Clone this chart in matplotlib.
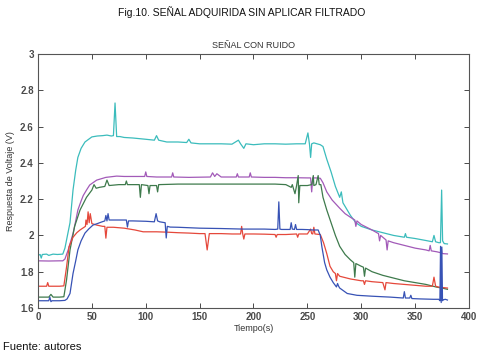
import matplotlib.pyplot as plt

# --- data (time in s, voltage in V) ---
cyan_t = [0, 2, 3, 4, 8, 10, 14, 18, 23, 25, 27, 29.7, 32.5, 35, 37, 40, 43.6, 47, 50, 55, 60, 64, 68,
          70, 71.5, 73, 76, 80, 88, 100, 108, 110, 112, 119.5, 130, 138, 140, 142, 150, 160, 170, 180,
          186, 188, 191, 193, 200, 210, 220, 230, 240, 248, 250.5, 252, 253, 254, 256, 259, 262, 264.5,
          268, 272, 276, 280, 281.5, 283, 286, 290, 295, 300, 310, 320, 330, 340, 341, 342, 350, 360,
          366, 367.5, 369, 372, 373.5, 374.6, 375.5, 377, 380]
cyan_v = [1.89, 1.895, 1.875, 1.895, 1.897, 1.89, 1.897, 1.895, 1.897, 1.93, 1.99, 2.07, 2.25, 2.36,
          2.43, 2.48, 2.515, 2.53, 2.543, 2.548, 2.55, 2.553, 2.548, 2.55, 2.73, 2.545, 2.545, 2.54,
          2.537, 2.53, 2.525, 2.55, 2.525, 2.515, 2.515, 2.512, 2.53, 2.51, 2.505, 2.505, 2.505, 2.503,
          2.525, 2.505, 2.48, 2.505, 2.50, 2.505, 2.505, 2.503, 2.505, 2.505, 2.565, 2.50, 2.43, 2.505,
          2.51, 2.505, 2.50, 2.49, 2.42, 2.35, 2.27, 2.21, 2.24, 2.18, 2.15, 2.11, 2.07, 2.05, 2.03,
          2.015, 2.0, 1.99, 2.01, 1.99, 1.983, 1.972, 1.965, 2.0, 1.965, 1.96, 1.96, 2.25, 1.97, 1.955,
          1.953]

purple_t = [0, 10, 20, 23, 25, 28, 30, 32.5, 35, 37, 40, 42, 45, 48, 54.5, 63, 73, 80, 90, 99, 100,
            101, 110, 124, 125, 126, 140, 160, 162, 164, 166, 170, 184, 185, 186, 196, 197, 198, 210,
            220, 230, 240, 250, 253, 254, 255, 258, 262, 264.5, 268, 273, 280, 285, 290, 294, 295, 296,
            300, 310, 316, 317, 318, 320, 323, 324, 325, 330, 340, 350, 360, 363, 364, 365, 370, 373.5,
            374.3, 375, 380]
purple_v = [1.86, 1.859, 1.86, 1.86, 1.87, 1.92, 1.96, 2.01, 2.08, 2.14, 2.19, 2.22, 2.25, 2.278,
            2.305, 2.32, 2.327, 2.325, 2.325, 2.325, 2.35, 2.325, 2.322, 2.322, 2.345, 2.322, 2.32,
            2.322, 2.345, 2.325, 2.34, 2.322, 2.322, 2.34, 2.322, 2.322, 2.345, 2.322, 2.32, 2.32, 2.318,
            2.318, 2.317, 2.317, 2.24, 2.317, 2.317, 2.315, 2.29, 2.24, 2.195, 2.15, 2.12, 2.10, 2.085,
            2.05, 2.08, 2.06, 2.03, 2.01, 1.97, 2.0, 1.99, 1.975, 1.92, 1.97, 1.96, 1.945, 1.93, 1.92,
            1.915, 1.945, 1.915, 1.91, 1.905, 1.93, 1.9, 1.898]

green_t = [0, 10, 12, 14, 20, 24, 26.5, 29.7, 34, 39, 45, 50, 52, 54, 57, 62, 64, 66, 75, 81, 82, 83,
           90, 94, 95, 96, 102, 103, 104, 108, 110, 111, 112, 130, 150, 170, 190, 210, 220, 230, 235,
           236, 238.5, 240, 241.5, 242, 243, 250, 254, 255.5, 256, 258, 260, 261, 262.5, 264.5, 268,
           272, 276, 280, 285, 290, 293, 294, 295, 300, 302, 303, 304, 310, 320, 330, 340, 350, 360,
           370, 375, 380]
green_v = [1.66, 1.66, 1.675, 1.66, 1.66, 1.662, 1.755, 1.92, 2.05, 2.14, 2.21, 2.25, 2.28, 2.26,
           2.265, 2.27, 2.305, 2.275, 2.28, 2.28, 2.30, 2.28, 2.28, 2.28, 2.21, 2.28, 2.275, 2.23, 2.275,
           2.275, 2.275, 2.24, 2.28, 2.283, 2.283, 2.283, 2.283, 2.283, 2.283, 2.28, 2.265, 2.28, 2.23,
           2.275, 2.33, 2.18, 2.275, 2.275, 2.28, 2.33, 2.275, 2.28, 2.33, 2.28, 2.28, 2.21, 2.14, 2.07,
           2.0, 1.94, 1.895, 1.865, 1.85, 1.77, 1.845, 1.83, 1.825, 1.775, 1.82, 1.80, 1.78, 1.765, 1.75,
           1.74, 1.73, 1.715, 1.71, 1.703]

red_t = [0, 8, 9, 10, 11, 20, 24, 26.5, 28.8, 32.5, 36, 39, 44, 44.5, 45.5, 46.5, 47.5, 48.5, 50,
         54.5, 60, 62, 63, 64, 70, 80, 90, 97.6, 110, 120, 130, 140, 150, 155, 157, 159, 170, 180, 188,
         189, 190, 191, 192, 200, 210, 220, 221, 222, 230, 240, 241, 242, 250, 253, 254, 255, 256, 257,
         262, 265, 268, 271, 274, 276, 277, 278, 280, 290, 300, 302, 303, 304, 310, 320, 322, 323, 330,
         340, 350, 360, 366, 367.5, 369, 372, 380]
red_v = [1.72, 1.72, 1.74, 1.72, 1.72, 1.72, 1.722, 1.826, 1.937, 1.99, 2.015, 2.03, 2.05, 2.085,
         2.06, 2.13, 2.07, 2.12, 2.065, 2.057, 2.05, 2.05, 1.985, 2.045, 2.045, 2.04, 2.03, 2.02, 2.02,
         2.018, 2.015, 2.013, 2.01, 2.01, 1.92, 2.01, 2.01, 2.008, 2.008, 2.05, 2.008, 1.98, 2.008,
         2.008, 2.007, 2.005, 1.99, 2.005, 2.005, 2.008, 1.99, 2.008, 2.008, 2.035, 2.01, 2.008, 2.045,
         2.008, 2.005, 1.96, 1.90, 1.83, 1.80, 1.79, 1.75, 1.79, 1.775, 1.76, 1.75, 1.75, 1.73, 1.75,
         1.745, 1.74, 1.70, 1.74, 1.735, 1.73, 1.725, 1.72, 1.72, 1.77, 1.72, 1.715, 1.71]

blue_t = [0, 10, 11, 12, 13, 20, 25, 27, 29.7, 32.5, 35, 37, 40, 43.6, 47, 51, 55, 59, 62, 63, 64, 65,
          66, 73, 82, 83, 84, 88, 100, 108, 109.6, 111, 113, 118, 119, 120, 122.6, 130, 150, 170, 190,
          200, 210, 220, 222.5, 223.5, 224.5, 226, 230, 234, 235, 236, 238, 239, 240, 245, 250, 255,
          260, 262, 263.5, 266, 268, 271, 274, 277, 278, 279, 280, 287, 296, 310, 320, 327, 339, 340,
          341, 345, 346, 347, 355, 367, 372, 373, 373.6, 374.2, 374.8, 375.4, 376, 378, 380]
blue_v = [1.64, 1.64, 1.66, 1.635, 1.64, 1.64, 1.642, 1.65, 1.68, 1.79, 1.86, 1.92, 1.97, 2.013, 2.035,
          2.057, 2.065, 2.074, 2.08, 2.11, 2.08, 2.12, 2.085, 2.085, 2.085, 2.046, 2.08, 2.08, 2.078,
          2.075, 2.12, 2.08, 2.075, 2.07, 1.986, 2.05, 2.046, 2.045, 2.04, 2.038, 2.035, 2.035, 2.035,
          2.033, 2.035, 2.185, 2.035, 2.033, 2.033, 2.033, 2.07, 2.035, 2.033, 2.06, 2.033, 2.033, 2.032,
          2.03, 2.03, 2.0, 1.936, 1.85, 1.81, 1.77, 1.74, 1.716, 1.735, 1.72, 1.71, 1.68, 1.67, 1.665,
          1.662, 1.66, 1.655, 1.69, 1.655, 1.655, 1.67, 1.652, 1.65, 1.648, 1.648, 1.64, 1.94, 1.63,
          1.936, 1.64, 1.645, 1.648, 1.644]

series = [
    (cyan_t, cyan_v, "#3bbcbc"),
    (purple_t, purple_v, "#a25ab8"),
    (green_t, green_v, "#3e7a4c"),
    (red_t, red_v, "#e5483b"),
    (blue_t, blue_v, "#3752b5"),
]

x_ticks = [0, 50, 100, 150, 200, 250, 300, 350, 400]
y_ticks = [1.6, 1.8, 2.0, 2.2, 2.4, 2.6, 2.8, 3.0]
y_labels = ["1.6", "1.8", "2", "2.2", "2.4", "2.6", "2.8", "3"]

plt.rcParams["font.family"] = ["Liberation Sans", "DejaVu Sans"]

fig = plt.figure(figsize=(4.84, 3.58), dpi=100)
ax = fig.add_axes([38 / 484, 1 - 308 / 358, (469 - 38) / 484, (308 - 54) / 358])

for t, v, c in series:
    ax.plot(t, v, color=c, lw=0.9)

ax.set_xlim(0, 400)
ax.set_ylim(1.6, 3.0)
ax.set_xticks(x_ticks)
ax.set_yticks(y_ticks)
ax.set_yticklabels(y_labels)
ax.tick_params(direction="in", top=True, right=True, length=3.5, width=0.7,
               labelsize=7, colors="#4a4a4a", pad=3)
for lbl in ax.get_xticklabels() + ax.get_yticklabels():
    lbl.set_fontweight("bold")
for s in ax.spines.values():
    s.set_color("#555555")
    s.set_linewidth(0.8)

ax.set_title("SEÑAL CON RUIDO", fontsize=6.5, color="#333333", pad=4)
ax.set_xlabel("Tiempo(s)", fontsize=6.5, color="#333333", labelpad=1)
ax.set_ylabel("Respuesta de Voltaje (V)", fontsize=6.5, color="#333333", labelpad=4)

fig.text(0.5, 1 - 12 / 358, "Fig.10. SEÑAL ADQUIRIDA SIN APLICAR FILTRADO",
         ha="center", va="center", fontsize=7.5, color="#111111")
fig.text(3 / 484, 1 - 347 / 358, "Fuente: autores", ha="left", va="center",
         fontsize=8, color="#111111")

fig.savefig("out.png", dpi=100)
